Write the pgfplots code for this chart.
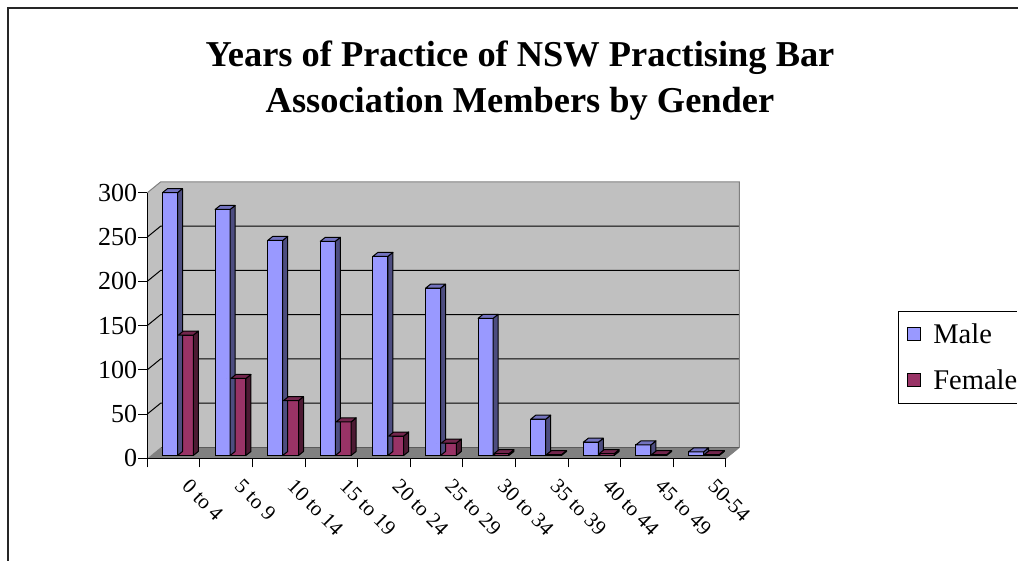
\documentclass[border=0pt]{standalone}
\usepackage{pgfplots}
\pgfplotsset{compat=1.18}
\usepackage{pgfplotstable}
\usepackage{fontspec}
\setmainfont{Liberation Serif}
\definecolor{maleF}{HTML}{9999FF}
\definecolor{maleS}{HTML}{4D4D80}
\definecolor{maleT}{HTML}{7373BF}
\definecolor{femF}{HTML}{993366}
\definecolor{femS}{HTML}{4D1A33}
\definecolor{femT}{HTML}{73264D}
\definecolor{wallC}{HTML}{C0C0C0}
\definecolor{floorC}{HTML}{808080}

\pgfplotstableread{
i m f
0 297 136
1 278 87
2 243 62
3 242 38
4 225 22
5 189 14
6 155 2
7 41 1
8 15 2
9 12 1
10 4 1
}\data

\pgfplotsset{
  faces/.style n args={3}{%
    scatter, only marks, forget plot, mark=*, mark size=0pt,
    mark options={draw=none,fill=none},
    visualization depends on={rawy\as\val},
    scatter/@pre marker code/.code={%
      \pgfmathsetmacro\hh{\val*0.885}%
      \pgfmathsetmacro\LL{#1-7.5}%
      \pgfmathsetmacro\RR{#1+7.5}%
      \filldraw[fill=#2, draw=black, line width=1pt, line join=round]
        (\RR pt,0pt) -- ++(5pt,4pt) -- ++(0pt,-\hh pt) -- (\RR pt,-\hh pt) -- cycle;
      \filldraw[fill=#3, draw=black, line width=1pt, line join=round]
        (\LL pt,0pt) -- ++(5pt,4pt) -- ++(15pt,0pt) -- (\RR pt,0pt) -- cycle;
    },
    scatter/@post marker code/.code={},
  },
}

\begin{document}
\begin{tikzpicture}
\useasboundingbox (0,0) rectangle (1018pt,561pt);
\clip (0,0) rectangle (1018pt,561pt);
\fill[white] (0,0) rectangle (1018pt,561pt);
\draw[line width=1.5pt, black!85] (8pt,-2pt) -- (8pt,553pt) -- (1022pt,553pt);

\node[align=center, font=\bfseries\fontsize{36.4}{46}\selectfont] at (520pt,480pt)
  {Years of Practice of NSW Practising Bar\\Association Members by Gender};

% frame axis (walls, floor, ticks)
\begin{axis}[
  at={(147.3pt,102.7pt)}, anchor=south west,
  scale only axis, x=52.6pt, y=0.885pt,
  xmin=-0.5, xmax=10.5, ymin=0, ymax=300,
  axis x line*=bottom, axis y line*=left,
  axis line style={black, line width=1pt},
  axis on top, clip=false,
  xtick={-0.5,0.5,...,10.5},
  xticklabels={,,,,,,,,,,,},
  extra x ticks={0,1,...,10},
  extra x tick labels={0 to 4,5 to 9,10 to 14,15 to 19,20 to 24,25 to 29,30 to 34,35 to 39,40 to 44,45 to 49,50-54},
  extra x tick style={major tick length=0pt,
    xticklabel style={rotate=-45, anchor=north west, inner sep=0pt, xshift=26pt, yshift=-1.5pt,
      font=\fontsize{21}{21}\selectfont}},
  ytick={0,50,...,300},
  tick align=outside, major tick length=9pt,
  tick style={black, line width=1pt},
  yticklabel style={font=\fontsize{26}{26}\selectfont, inner sep=1pt},
  /pgf/number format/assume math mode=true,
]
\fill[wallC] (axis cs:-0.5,0) -- (axis cs:-0.5,300) -- ([xshift=13.5pt,yshift=11pt]axis cs:-0.5,300) -- ([xshift=13.5pt,yshift=11pt]axis cs:-0.5,0) -- cycle;
\fill[wallC] ([xshift=13.5pt,yshift=11pt]axis cs:-0.5,0) rectangle ([xshift=13.5pt,yshift=11pt]axis cs:10.5,300);
\fill[floorC] (axis cs:-0.5,0) -- (axis cs:10.5,0) -- ([xshift=13.5pt,yshift=11pt]axis cs:10.5,0) -- ([xshift=13.5pt,yshift=11pt]axis cs:-0.5,0) -- cycle;
\pgfplotsinvokeforeach{50,100,150,200,250}{
  \draw[black, line width=1pt] (axis cs:-0.5,#1) -- ([xshift=13.5pt,yshift=11pt]axis cs:-0.5,#1) -- ([xshift=13.5pt,yshift=11pt]axis cs:10.5,#1);
}
\draw[floorC, line width=1pt] (axis cs:-0.5,300) -- ([xshift=13.5pt,yshift=11pt]axis cs:-0.5,300) -- ([xshift=13.5pt,yshift=11pt]axis cs:10.5,300) -- ([xshift=13.5pt,yshift=11pt]axis cs:10.5,0) -- (axis cs:10.5,0);
\draw[floorC!70!black, line width=0.8pt] ([xshift=13.5pt,yshift=11pt]axis cs:-0.5,0) -- ([xshift=13.5pt,yshift=11pt]axis cs:10.5,0);
\end{axis}

% bars axis
\begin{axis}[
  at={(147.3pt,105.5pt)}, anchor=south west,
  scale only axis, x=52.6pt, y=0.885pt,
  xmin=-0.5, xmax=10.5, ymin=0, ymax=300,
  hide axis, clip=false,
  legend style={at={(1.2974,0.5443)}, anchor=north west, draw=black, line width=0.8pt,
    fill=white, font=\fontsize{28.5}{30}\selectfont, inner xsep=9pt, inner ysep=9pt,
    row sep=19pt, nodes={inner sep=3pt}},
  legend cell align=left,
]
\addplot[faces={-3.6}{maleS}{maleT}] table[x=i,y=m]{\data};
\addplot[ybar, bar width=15pt, bar shift=-3.6pt, fill=maleF, draw=black, line width=1pt,
  legend image code/.code={\path (0pt,0pt) (22pt,0pt);\filldraw[fill=maleF,draw=black,line width=1pt] (0pt,-6.5pt) rectangle (13pt,6.5pt);}]
  table[x=i,y=m]{\data};
\addlegendentry{\makebox[110pt][l]{Male}}
\addplot[faces={12.2}{femS}{femT}] table[x=i,y=f]{\data};
\addplot[ybar, bar width=15pt, bar shift=12.2pt, fill=femF, draw=black, line width=1pt,
  legend image code/.code={\path (0pt,0pt) (22pt,0pt);\filldraw[fill=femF,draw=black,line width=1pt] (0pt,-6.5pt) rectangle (13pt,6.5pt);}]
  table[x=i,y=f]{\data};
\addlegendentry{\makebox[110pt][l]{Female}}
\end{axis}
\fill[white] (1016.8pt,155pt) rectangle (1020pt,255pt);
\end{tikzpicture}
\end{document}
